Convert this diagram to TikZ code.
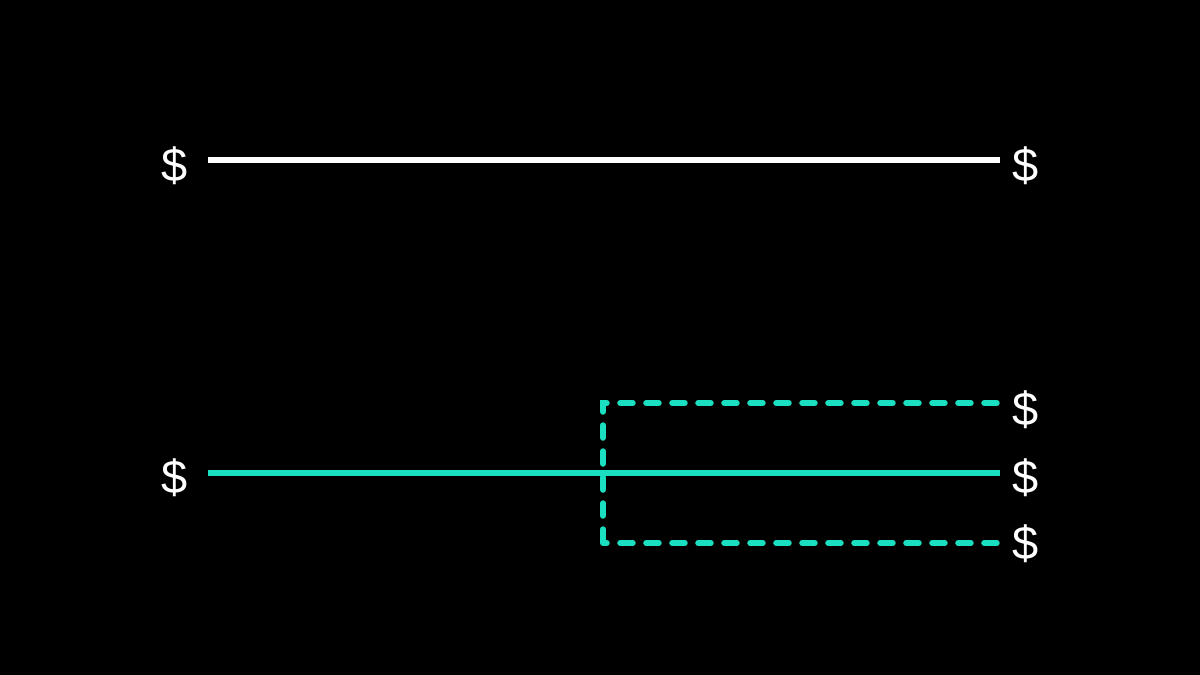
\documentclass[tikz,border=0pt]{standalone}
\usepackage{fontspec}
\setmainfont{Liberation Sans}
\definecolor{teal1}{HTML}{1ADFC0}
\begin{document}
\begin{tikzpicture}[x=1pt,y=-1pt,
  money/.style={text=white,font=\fontsize{47}{52}\selectfont,inner ysep=0pt},
  lmoney/.style={money,inner xsep=20.5pt},
  rmoney/.style={money,inner xsep=13pt},
  solidline/.style={line width=6.5pt},
  dashline/.style={teal1,line width=6pt,line cap=round,dash pattern=on 12.5pt off 13.5pt}]
\fill[black] (0,0) rectangle (1200,675);
\useasboundingbox (0,0) rectangle (1200,675);
\node[lmoney] (L1) at (174.5,166) {\$};
\node[rmoney] (R1) at (1026,166) {\$};
\node[lmoney] (L2) at (174.5,478) {\$};
\node[rmoney] (R2) at (1026,410) {\$};
\node[rmoney] (R3) at (1026,478) {\$};
\node[rmoney] (R4) at (1026,544) {\$};
\coordinate (c1) at (603,403);
\coordinate (c2) at (603,543);
\coordinate (m1) at (207,160);
\coordinate (m2) at (207,473);
\draw[solidline,white] (L1.east |- m1) -- (R1.west |- m1);
\draw[solidline,teal1] (L2.east |- m2) -- (R3.west |- m2);
\draw[dashline] ([xshift=-3pt]c1 -| R2.west) -- (c1) -- (c2);
\draw[dashline] ([xshift=-3pt]c2 -| R4.west) -- (c2);
\end{tikzpicture}
\end{document}
